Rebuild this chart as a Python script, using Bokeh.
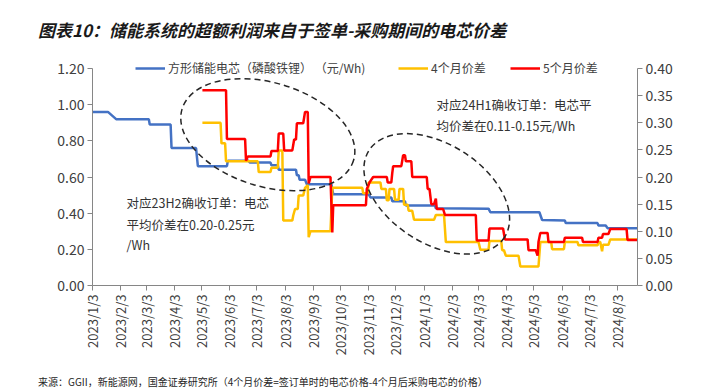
import math
import pandas as pd
from bokeh.plotting import figure
from bokeh.layouts import column
from bokeh.models import (Range1d, LinearAxis, FixedTicker, Legend, LegendItem,
                          Label, NumeralTickFormatter, Div)
from bokeh.embed import file_html
from bokeh.resources import INLINE

# ---------------- data ----------------
cell_dates = ["2023-01-03", "2023-01-20", "2023-01-29", "2023-03-06", "2023-03-07", "2023-03-30",
              "2023-03-31", "2023-04-27", "2023-04-29", "2023-05-31", "2023-06-01", "2023-06-24",
              "2023-06-25", "2023-07-18", "2023-07-19", "2023-07-26", "2023-07-27", "2023-08-15",
              "2023-08-16", "2023-08-18", "2023-08-19", "2023-08-25", "2023-08-27", "2023-09-23",
              "2023-09-25", "2023-11-03", "2023-11-05", "2023-11-28", "2023-11-29", "2023-12-13",
              "2023-12-14", "2024-01-15", "2024-01-16", "2024-03-14", "2024-03-16", "2024-05-09",
              "2024-05-12", "2024-06-06", "2024-06-07", "2024-07-12", "2024-07-13", "2024-07-21",
              "2024-07-23", "2024-08-25"]
cell_price = [0.96, 0.96, 0.92, 0.92, 0.89, 0.89, 0.76, 0.76, 0.66, 0.66, 0.69, 0.69,
              0.68, 0.68, 0.665, 0.665, 0.64, 0.64, 0.61, 0.61, 0.585, 0.585, 0.56, 0.56,
              0.505, 0.505, 0.487, 0.487, 0.466, 0.466, 0.442, 0.442, 0.427, 0.425, 0.405, 0.405,
              0.362, 0.36, 0.345, 0.345, 0.332, 0.332, 0.317, 0.317]

spread4_dates = ["2023-05-04", "2023-05-24", "2023-05-25", "2023-05-29", "2023-05-30", "2023-07-04",
                 "2023-07-05", "2023-07-18", "2023-07-19", "2023-07-26", "2023-07-27", "2023-07-31",
                 "2023-08-01", "2023-08-11", "2023-08-12", "2023-08-14", "2023-08-17", "2023-08-18",
                 "2023-08-23", "2023-08-25", "2023-08-28", "2023-08-29", "2023-08-31", "2023-09-22",
                 "2023-09-24", "2023-10-27", "2023-10-28", "2023-11-02", "2023-11-03", "2023-11-16",
                 "2023-11-17", "2023-11-22", "2023-11-23", "2023-11-25", "2023-11-26", "2023-12-01",
                 "2023-12-02", "2023-12-06", "2023-12-07", "2023-12-11", "2023-12-12", "2023-12-16",
                 "2023-12-17", "2023-12-21", "2023-12-23", "2024-01-14", "2024-01-16", "2024-01-25",
                 "2024-01-27", "2024-03-03", "2024-03-05", "2024-03-14", "2024-03-15", "2024-03-28",
                 "2024-03-29", "2024-03-31", "2024-04-02", "2024-04-16", "2024-04-18", "2024-05-08",
                 "2024-05-10", "2024-05-22", "2024-05-23", "2024-06-05", "2024-06-06", "2024-06-20",
                 "2024-06-21", "2024-07-12", "2024-07-13", "2024-07-15", "2024-07-17", "2024-07-18",
                 "2024-07-24", "2024-07-26", "2024-08-25"]
spread4 = [0.30, 0.30, 0.262, 0.262, 0.229, 0.229,
           0.209, 0.209, 0.217, 0.217, 0.249, 0.249,
           0.12, 0.12, 0.129, 0.141, 0.141, 0.166,
           0.166, 0.18, 0.185, 0.089, 0.10, 0.10,
           0.18, 0.18, 0.17, 0.17, 0.19, 0.19,
           0.178, 0.178, 0.157, 0.157, 0.178, 0.178,
           0.158, 0.158, 0.178, 0.178, 0.149, 0.149,
           0.138, 0.138, 0.121, 0.121, 0.13, 0.13,
           0.08, 0.08, 0.066, 0.066, 0.082, 0.082,
           0.065, 0.065, 0.055, 0.055, 0.035, 0.035,
           0.08, 0.08, 0.067, 0.067, 0.08, 0.08,
           0.074, 0.074, 0.08, 0.08, 0.063, 0.075,
           0.075, 0.085, 0.085]

spread5_dates = ["2023-05-04", "2023-05-30", "2023-05-31", "2023-06-20", "2023-06-21", "2023-06-23",
                 "2023-07-18", "2023-07-19", "2023-07-26", "2023-07-27", "2023-08-01", "2023-08-02",
                 "2023-08-11", "2023-08-13", "2023-08-15", "2023-08-16", "2023-08-23", "2023-08-25",
                 "2023-08-28", "2023-08-29", "2023-08-31", "2023-09-22", "2023-09-24", "2023-09-25",
                 "2023-10-31", "2023-11-01", "2023-11-04", "2023-11-08", "2023-11-23", "2023-11-24",
                 "2023-11-28", "2023-11-29", "2023-11-30", "2023-12-09", "2023-12-11", "2023-12-13",
                 "2023-12-14", "2023-12-20", "2023-12-21", "2024-01-06", "2024-01-07", "2024-01-09",
                 "2024-01-11", "2024-01-14", "2024-01-16", "2024-01-17", "2024-01-24", "2024-01-26",
                 "2024-02-29", "2024-03-01", "2024-03-14", "2024-03-15", "2024-03-30", "2024-04-01",
                 "2024-04-26", "2024-04-27", "2024-05-05", "2024-05-07", "2024-05-08", "2024-05-10",
                 "2024-05-18", "2024-05-19", "2024-06-05", "2024-06-06", "2024-06-25", "2024-06-26",
                 "2024-07-12", "2024-07-13", "2024-07-17", "2024-07-18", "2024-07-24", "2024-07-26",
                 "2024-08-13", "2024-08-14", "2024-08-25"]
spread5 = [0.36, 0.36, 0.27, 0.27, 0.23, 0.238,
           0.238, 0.248, 0.248, 0.28, 0.28, 0.249,
           0.249, 0.269, 0.269, 0.299, 0.299, 0.32,
           0.32, 0.188, 0.20, 0.20, 0.098, 0.148,
           0.148, 0.178, 0.19, 0.20, 0.20, 0.19,
           0.19, 0.207, 0.22, 0.22, 0.24, 0.24,
           0.229, 0.229, 0.20, 0.20, 0.178, 0.178,
           0.15, 0.15, 0.16, 0.141, 0.141, 0.13,
           0.13, 0.083, 0.083, 0.105, 0.105, 0.085,
           0.085, 0.065, 0.065, 0.055, 0.08, 0.097,
           0.097, 0.08, 0.08, 0.088, 0.088, 0.08,
           0.08, 0.088, 0.088, 0.095, 0.095, 0.104,
           0.104, 0.084, 0.084]

tick_dates = ["2023-01-03", "2023-02-03", "2023-03-03", "2023-04-03", "2023-05-03", "2023-06-03",
              "2023-07-03", "2023-08-03", "2023-09-03", "2023-10-03", "2023-11-03", "2023-12-03",
              "2024-01-03", "2024-02-03", "2024-03-03", "2024-04-03", "2024-05-03", "2024-06-03",
              "2024-07-03", "2024-08-03"]
tick_labels = ["2023/1/3", "2023/2/3", "2023/3/3", "2023/4/3", "2023/5/3", "2023/6/3",
               "2023/7/3", "2023/8/3", "2023/9/3", "2023/10/3", "2023/11/3", "2023/12/3",
               "2024/1/3", "2024/2/3", "2024/3/3", "2024/4/3", "2024/5/3", "2024/6/3",
               "2024/7/3", "2024/8/3"]
x_start, x_end = "2023-01-03", "2024-08-25"
left_max, right_max = 1.2, 0.4
left_ticks = [0.0, 0.2, 0.4, 0.6, 0.8, 1.0, 1.2]
right_ticks = [0.0, 0.05, 0.10, 0.15, 0.20, 0.25, 0.30, 0.35, 0.40]

series_names = ["方形储能电芯（磷酸铁锂） （元/Wh)", "4个月价差", "5个月价差"]
title_text = "图表10：储能系统的超额利润来自于签单-采购期间的电芯价差"
source_text = "来源：GGII，新能源网，国金证券研究所（4个月价差=签订单时的电芯价格-4个月后采购电芯的价格）"
note1 = ["对应23H2确收订单：电芯", "平均价差在0.20-0.25元", "/Wh"]
note2 = ["对应24H1确收订单：电芯平", "均价差在0.11-0.15元/Wh"]
ellipse_centers = [("2023-07-15", 0.834), ("2024-01-17", 0.507)]

# ---------------- layout constants (pixels) ----------------
CJK = "Noto Sans CJK SC"
W = 714
MAIN_H = 314
FL, FW = 92, 545          # frame left / width in main figure
PAD = 12                  # frame extends PAD px above the 1.20 line (room for legend)
FH = 217 + PAD            # frame height
y_end = left_max * FH / 217
y2_end = right_max * FH / 217

def ms(d):
    return pd.Timestamp(d).value / 1e6

def rule(color, h, margin):
    """A thin solid bar: a small axis-less figure whose frame is filled by one block glyph."""
    f = figure(width=671, height=h, x_axis_location=None, y_axis_location=None,
               x_range=Range1d(0, 1), y_range=Range1d(0, 1),
               toolbar_location=None, output_backend="svg", min_border=0, margin=margin,
               background_fill_color=color, border_fill_color=color)
    f.outline_line_color = None
    f.grid.visible = False
    f.quad(left=[0], right=[1], bottom=[0], top=[1], fill_color=color, line_color=color)
    return f

# ---------------- title strip (HTML) ----------------
top = Div(width=W, height=44, margin=0, text=(
    f'<div style="position:relative;width:{W}px;height:44px;margin:0;padding:0;">'
    f'<span style="position:absolute;left:38px;top:18px;line-height:24px;white-space:nowrap;'
    f'font-family:\'{CJK}\';font-size:17px;font-weight:bold;font-style:italic;color:#1a1a1a;">'
    f'{title_text}</span></div>'))
top_rule = rule("#5d86a6", 3, (0, 8, 9, 35))

# ---------------- main chart ----------------
p = figure(width=W, height=MAIN_H, x_axis_type="datetime", output_backend="svg",
           toolbar_location=None, margin=0,
           x_range=Range1d(ms(x_start), ms(x_end)), y_range=Range1d(0, y_end),
           min_border_left=FL, min_border_right=W - FL - FW,
           min_border_top=0, min_border_bottom=MAIN_H - FH)
p.outline_line_color = None
p.xgrid.visible = False
p.ygrid.visible = False

p.extra_y_ranges = {"right": Range1d(0, y2_end)}

axis_color = "#868686"
label_color = "#404040"

yl = p.yaxis[0]
yl.ticker = FixedTicker(ticks=left_ticks)
yl.formatter = NumeralTickFormatter(format="0.00")
yl.bounds = (0, left_max)

yr = LinearAxis(y_range_name="right", ticker=FixedTicker(ticks=right_ticks),
                formatter=NumeralTickFormatter(format="0.00"), bounds=(0, right_max))
p.add_layout(yr, "right")

for ax in (yl, yr):
    ax.axis_line_color = axis_color
    ax.major_tick_line_color = axis_color
    ax.major_tick_out = 5
    ax.major_tick_in = 0
    ax.minor_tick_line_color = None
    ax.major_label_text_font = CJK
    ax.major_label_text_font_size = "14px"
    ax.major_label_text_color = label_color
    ax.major_label_standoff = 3

tick_ms = [ms(d) for d in tick_dates]
xa = p.xaxis[0]
xa.ticker = FixedTicker(ticks=tick_ms)
xa.major_label_overrides = {t: lab for t, lab in zip(tick_ms, tick_labels)}
xa.major_label_orientation = math.pi / 2
xa.axis_line_color = axis_color
xa.major_tick_line_color = axis_color
xa.major_tick_out = 5
xa.major_tick_in = 0
xa.minor_tick_line_color = None
xa.major_label_text_font = CJK
xa.major_label_text_font_size = "13px"
xa.major_label_text_color = label_color
xa.major_label_standoff = 4

r_cell = p.line(pd.to_datetime(cell_dates), cell_price, line_color="#4472C4", line_width=2.5)
r_s4 = p.line(pd.to_datetime(spread4_dates), spread4, line_color="#FFC000", line_width=2.5,
              y_range_name="right")
r_s5 = p.line(pd.to_datetime(spread5_dates), spread5, line_color="#FF0000", line_width=2.5,
              y_range_name="right")

# dashed ellipses
p.ellipse(x=[pd.Timestamp(ellipse_centers[0][0])], y=[ellipse_centers[0][1]],
          width=179, height=104, width_units="screen", height_units="screen", angle=-0.29,
          fill_alpha=0, line_color="#262626", line_dash="6 4", line_width=1.5)
p.ellipse(x=[pd.Timestamp(ellipse_centers[1][0])], y=[ellipse_centers[1][1]],
          width=161, height=99, width_units="screen", height_units="screen", angle=-0.57,
          fill_alpha=0, line_color="#262626", line_dash="6 4", line_width=1.5)

# legends (one per series, placed like the reference)
legend_pos = [(43, FH - 20), (306, FH - 20), (418, FH - 20)]
for r, name, loc in zip([r_cell, r_s4, r_s5], series_names, legend_pos):
    lg = Legend(items=[LegendItem(label=name, renderers=[r])], location=loc,
                orientation="horizontal", padding=0, margin=0, spacing=0,
                glyph_width=30, glyph_height=16, label_height=16, label_standoff=3,
                label_text_font=CJK, label_text_font_size="12px",
                label_text_color=label_color, background_fill_alpha=0,
                border_line_alpha=0)
    p.add_layout(lg)

# notes (canvas coordinates of the main figure)
for i, t in enumerate(note1):
    p.add_layout(Label(x=126, y=146 + [0, 21.6, 41.6][i], x_units="canvas", y_units="canvas",
                       text=t, text_font=CJK, text_font_size="12.5px", text_color="#333333",
                       text_baseline="middle"))
for i, t in enumerate(note2):
    p.add_layout(Label(x=436, y=48 + 21.4 * i, x_units="canvas", y_units="canvas",
                       text=t, text_font=CJK, text_font_size="12.5px", text_color="#333333",
                       text_baseline="middle"))

# ---------------- source strip (HTML) ----------------
bot_rule = rule("#1f4e79", 2, (4, 8, 0, 35))
bot = Div(width=W, height=13, margin=0, text=(
    f'<div style="position:relative;width:{W}px;height:13px;margin:0;padding:0;">'
    f'<span style="position:absolute;left:38px;top:0px;line-height:12px;white-space:nowrap;'
    f'font-family:\'{CJK}\';font-size:10px;color:#262626;">{source_text}</span></div>'))

layout = column(top, top_rule, p, bot_rule, bot, spacing=0)
open("out.html", "w").write(file_html(layout, INLINE))
